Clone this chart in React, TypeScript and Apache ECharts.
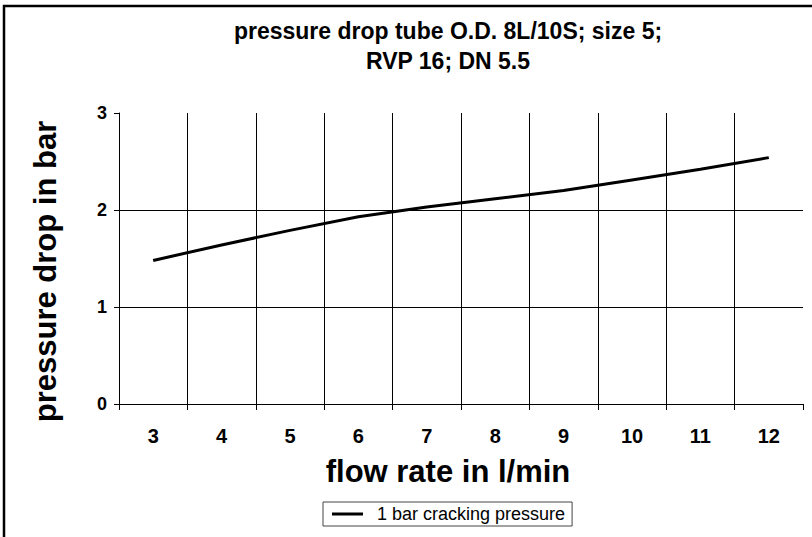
import React, { useEffect, useRef } from "react";
import * as echarts from "echarts";

const titleLines = ["pressure drop tube O.D. 8L/10S; size 5;", "RVP 16; DN 5.5"];
const xAxisName = "flow rate in l/min";
const yAxisName = "pressure drop in bar";
const seriesName = "1 bar cracking pressure";
const categories = [3, 4, 5, 6, 7, 8, 9, 10, 11, 12];
const pressureDrop = [1.48, 1.64, 1.79, 1.93, 2.03, 2.115, 2.2, 2.31, 2.42, 2.54];
const yTicks = [0, 1, 2, 3];
const yGridValues = [1, 2];

const FONT = "'Liberation Sans', Arial, Helvetica, sans-serif";

export default function App() {
  const ref = useRef<HTMLDivElement>(null);
  useEffect(() => {
    if (!ref.current) return;
    const chart = echarts.init(ref.current, undefined, { renderer: "svg" });
    const boundaries = categories.slice(0, -1).map((c) => c + 0.5);
    const option: any = {
      animation: false,
      backgroundColor: "#fff",
      textStyle: { fontFamily: FONT, color: "#000" },
      title: {
        text: titleLines.join("\n"),
        left: 448,
        textAlign: "center",
        top: 16,
        padding: 0,
        textStyle: {
          fontFamily: FONT,
          fontSize: 23,
          fontWeight: "bold",
          color: "#000",
          lineHeight: 30,
        },
      },
      grid: { left: 119, right: 9, top: 113, bottom: 133 },
      xAxis: [
        {
          type: "category",
          data: categories.map(String),
          boundaryGap: true,
          axisLine: { show: true, lineStyle: { color: "#000", width: 1 } },
          axisTick: { show: true, length: 6, lineStyle: { color: "#000", width: 1 } },
          axisLabel: {
            interval: 0,
            margin: 22,
            fontSize: 20,
            fontWeight: "bold",
            color: "#000",
            fontFamily: FONT,
          },
          splitLine: { show: false },
          name: xAxisName,
          nameLocation: "middle",
          nameGap: 52,
          nameTextStyle: {
            fontSize: 31,
            fontWeight: "bold",
            color: "#000",
            fontFamily: FONT,
            padding: [0, 26, 0, 0],
          },
        },
        {
          type: "value",
          min: categories[0] - 0.5,
          max: categories[categories.length - 1] + 0.5,
          show: false,
        },
      ],
      yAxis: {
        type: "value",
        min: yTicks[0],
        max: yTicks[yTicks.length - 1],
        interval: 1,
        axisLine: { show: true, lineStyle: { color: "#000", width: 1 } },
        axisTick: { show: true, length: 5, lineStyle: { color: "#000" } },
        axisLabel: {
          margin: 12,
          fontSize: 18,
          fontWeight: "bold",
          color: "#000",
          fontFamily: FONT,
        },
        splitLine: { show: false },
        name: yAxisName,
        nameLocation: "middle",
        nameGap: 58,
        nameRotate: 90,
        nameTextStyle: {
          fontSize: 31,
          fontWeight: "bold",
          color: "#000",
          fontFamily: FONT,
          padding: [0, 26, 0, 0],
        },
      },
      legend: {
        data: [seriesName],
        left: 323,
        top: 502,
        padding: [3, 7, 3, 9],
        borderColor: "#444",
        borderWidth: 1,
        icon: "rect",
        itemWidth: 31,
        itemHeight: 3,
        textStyle: {
          fontSize: 18,
          color: "#000",
          fontFamily: FONT,
          padding: [0, 0, 0, 9],
        },
      },
      series: [
        {
          type: "line",
          name: seriesName,
          xAxisIndex: 1,
          yAxisIndex: 0,
          data: categories.map((c, i) => [c, pressureDrop[i]]),
          symbol: "none",
          color: "#000",
          lineStyle: { color: "#000", width: 3 },
          z: 6,
          markLine: {
            silent: true,
            symbol: ["none", "none"],
            label: { show: false },
            emphasis: { disabled: true },
            lineStyle: { color: "#000", width: 1, type: "solid" },
            data: [
              ...boundaries.map((b) => ({ xAxis: b })),
              ...yGridValues.map((v) => ({ yAxis: v })),
            ],
          },
        },
      ],
      graphic: [
        {
          type: "rect",
          silent: true,
          shape: { x: 4, y: 6, width: 840, height: 560 },
          style: { fill: "none", stroke: "#000", lineWidth: 2.5 },
        },
      ],
    };
    chart.setOption(option);
    return () => chart.dispose();
  }, []);
  return (
    <div
      ref={ref}
      style={{ position: "absolute", left: 0, top: 0, width: 812, height: 537 }}
    />
  );
}
